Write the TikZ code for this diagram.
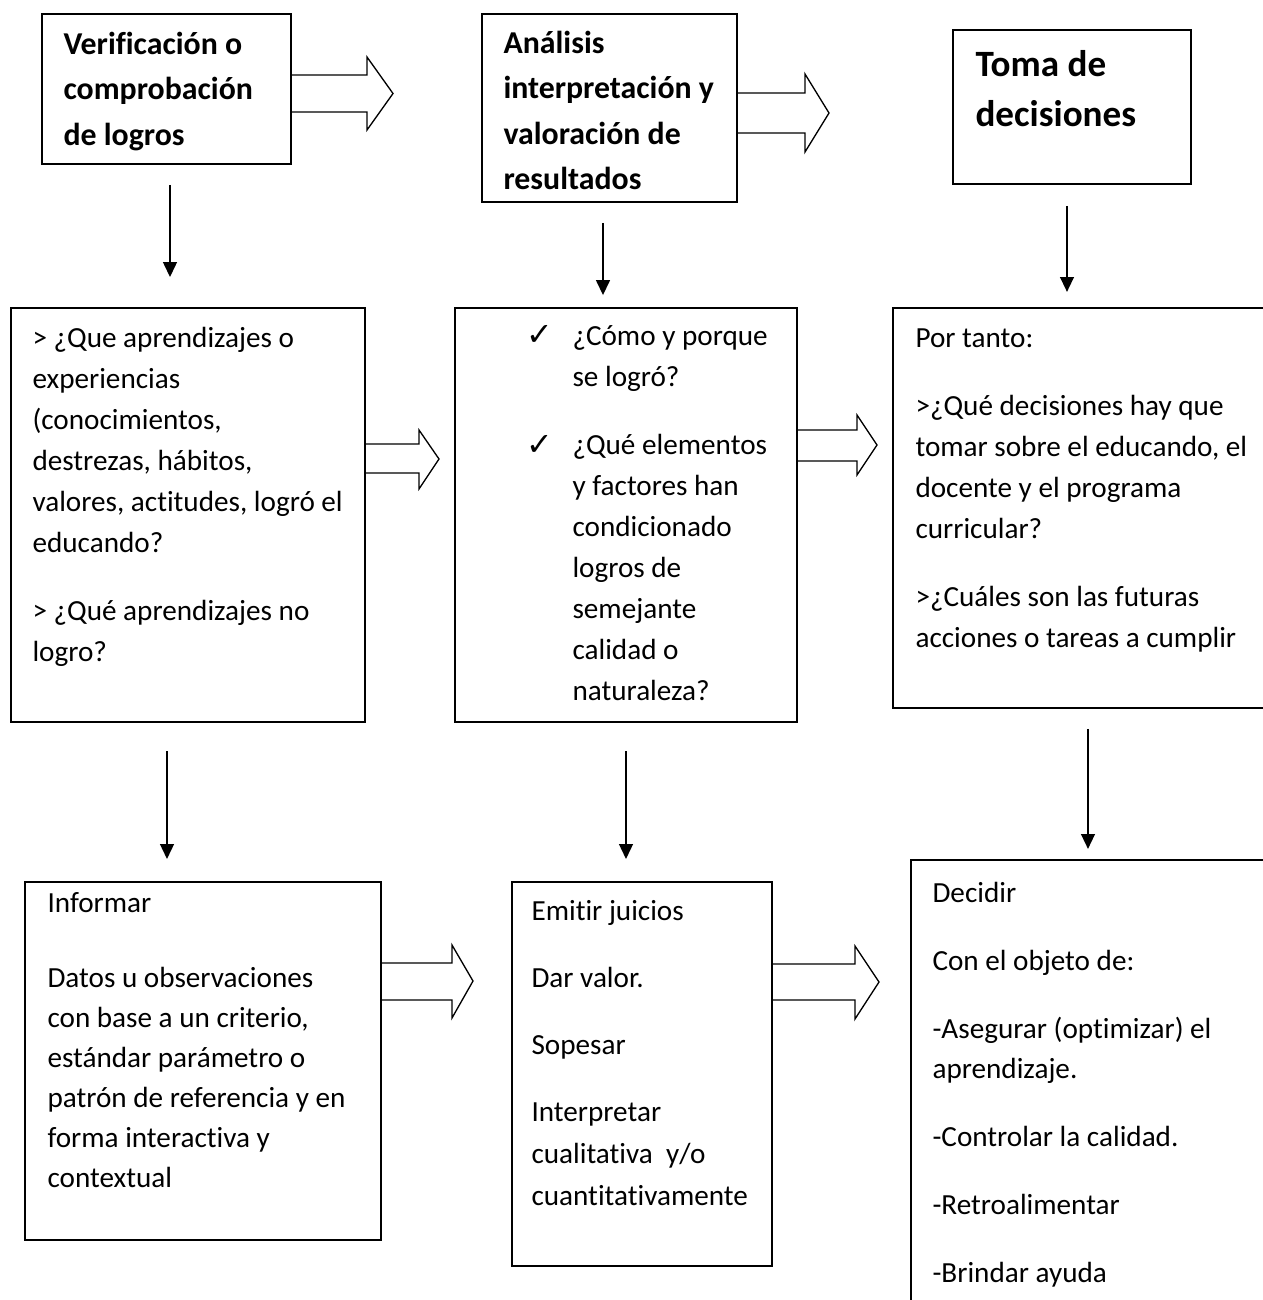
\documentclass[tikz,border=0pt]{standalone}
\usepackage{fontspec}
\setmainfont{Carlito}[Ligatures=NoCommon]
\newfontfamily\checkfont{DejaVu Sans}
\usetikzlibrary{fit,arrows.meta}

\begin{document}
\begin{tikzpicture}[x=0.377pt,y=-0.377pt,
		box/.style={draw,line width=0.75pt,inner sep=0pt},
		txt/.style={anchor=base west,inner sep=0pt,text width=6cm,align=flush left},
		chk/.style={anchor=base west,inner sep=0pt,font={\checkfont\fontsize{12}{12}\selectfont}},
		arr/.style={line width=0.6pt,-{Triangle[length=5.6pt,width=5.2pt]}},
		blk/.style={line width=0.5pt,line join=miter}]
	\useasboundingbox (0,0) rectangle (1263,1300);
	\clip (0,0) rectangle (1263,1300);
	% cajas
	\node[box,fit={(42,14) (291,164)}] (a1) {};
	\node[box,fit={(482,14) (737,202)}] (a2) {};
	\node[box,fit={(953,30) (1191,184)}] (a3) {};
	\node[box,fit={(11,308) (365,722)}] (b1) {};
	\node[box,fit={(455,308) (797,722)}] (b2) {};
	\node[box,fit={(893,308) (1300,708)}] (b3) {};
	\node[box,fit={(25,882) (381,1240)}] (c1) {};
	\node[box,fit={(512,882) (772,1266)}] (c2) {};
	\node[box,fit={(911,860) (1300,1340)}] (c3) {};
	% textos
	\node[txt,font={\fontsize{12}{17.3}\selectfont\bfseries}] (a1t) at (63,54) {Verificación o\\comprobación\\de logros};
	\node[txt,font={\fontsize{12}{17.2}\selectfont\bfseries}] (a2t) at (503,53) {Análisis\\interpretación y\\valoración de\\resultados};
	\node[txt,font={\fontsize{14}{19.2}\selectfont\bfseries}] (a3t) at (975,76) {Toma de\\decisiones};
	\node[txt,font={\fontsize{11}{15.46}\selectfont}] (b1t) at (32,347) {> ¿Que aprendizajes o\\experiencias\\(conocimientos,\\destrezas, hábitos,\\valores, actitudes, logró el\\educando?\\[10.2pt]> ¿Qué aprendizajes no\\logro?};
	\node[chk] (k1) at (526,345) {✓};
	\node[chk] (k2) at (526,455) {✓};
	\node[txt,font={\fontsize{11}{15.46}\selectfont}] (b2t) at (572,345) {¿Cómo y porque\\se logró?\\[10.4pt]¿Qué elementos\\y factores han\\condicionado\\logros de\\semejante\\calidad o\\naturaleza?};
	\node[txt,font={\fontsize{11}{15.46}\selectfont}] (b3t) at (915,347) {Por tanto:\\[10.2pt]>¿Qué decisiones hay que\\tomar sobre el educando, el\\docente y el programa\\curricular?\\[10.2pt]>¿Cuáles son las futuras\\acciones o tareas a cumplir};
	\node[txt,font={\fontsize{11}{15.1}\selectfont}] (c1t) at (47,912) {Informar\\[13.2pt]Datos u observaciones\\con base a un criterio,\\estándar parámetro o\\patrón de referencia y en\\forma interactiva y\\contextual};
	\node[txt,font={\fontsize{11}{15.8}\selectfont}] (c2t) at (531,920) {Emitir juicios\\[9.5pt]Dar valor.\\[9.5pt]Sopesar\\[9.5pt]Interpretar\\cualitativa\ \ y/o\\cuantitativamente};
	\node[txt,font={\fontsize{11}{15.1}\selectfont}] (c3t) at (932,902) {Decidir\\[10.6pt]Con el objeto de:\\[10.6pt]-Asegurar (optimizar) el\\aprendizaje.\\[10.6pt]-Controlar la calidad.\\[10.6pt]-Retroalimentar\\[10.6pt]-Brindar ayuda};
	% flechas hacia abajo
	\draw[arr,shorten <=7.5pt,shorten >=11.3pt] (a1.south -| 170,0) -- (b1.north -| 170,0);
	\draw[arr,shorten <=7.5pt,shorten >=4.5pt] (a2.south -| 603,0) -- (b2.north -| 603,0);
	\draw[arr,shorten <=7.9pt,shorten >=5.7pt] (a3.south -| 1067,0) -- (b3.north -| 1067,0);
	\draw[arr,shorten <=10.6pt,shorten >=8.3pt] (b1.south -| 167,0) -- (c1.north -| 167,0);
	\draw[arr,shorten <=10.6pt,shorten >=8.3pt] (b2.south -| 626,0) -- (c2.north -| 626,0);
	\draw[arr,shorten <=7.5pt,shorten >=3.8pt] (b3.south -| 1088,0) -- (c3.north -| 1088,0);
	% flechas de bloque
	\draw[blk] (a1.east |- 0,75) -- (367,75) -- (367,57) -- (393,93.5) -- (367,130) -- (367,112) -- (a1.east |- 0,112);
	\draw[blk] (a2.east |- 0,93) -- (805,93) -- (805,74) -- (829,113) -- (805,152) -- (805,133) -- (a2.east |- 0,133);
	\draw[blk] (b1.east |- 0,444) -- (419,444) -- (419,430) -- (439,459) -- (419,489) -- (419,473) -- (b1.east |- 0,473);
	\draw[blk] (b2.east |- 0,430) -- (857,430) -- (857,415) -- (877,445) -- (857,475) -- (857,461) -- (b2.east |- 0,461);
	\draw[blk] (c1.east |- 0,963) -- (452,963) -- (452,945) -- (473,981) -- (452,1018) -- (452,1000) -- (c1.east |- 0,1000);
	\draw[blk] (c2.east |- 0,964) -- (855,964) -- (855,946) -- (879,982) -- (855,1019) -- (855,1000) -- (c2.east |- 0,1000);
\end{tikzpicture}
\end{document}
